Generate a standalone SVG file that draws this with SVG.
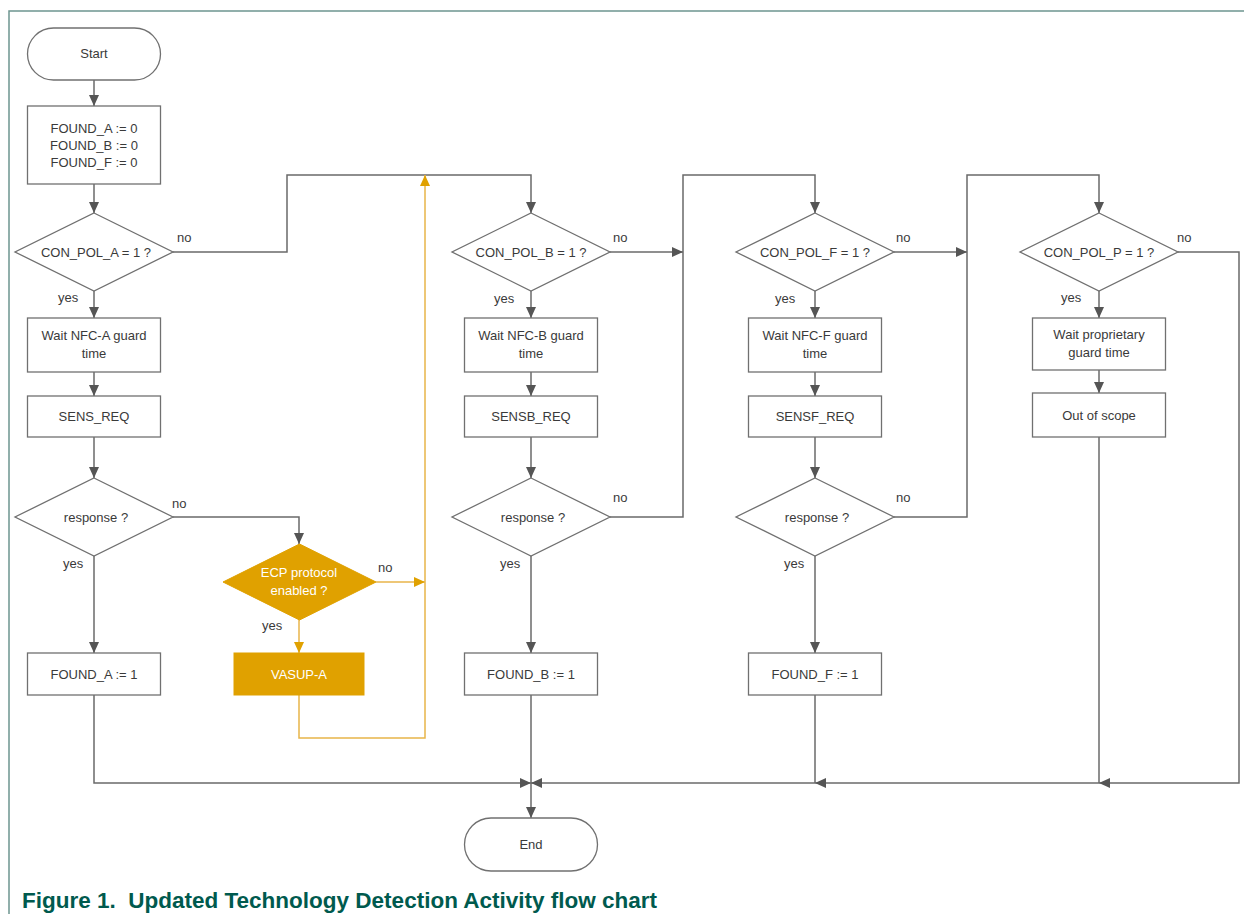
<svg xmlns="http://www.w3.org/2000/svg" width="1244" height="914" viewBox="0 0 1244 914">
<style>
.bx{fill:#fff;stroke:#707070;stroke-width:1.3}
.yb{fill:#E0A100;stroke:#E0A100;stroke-width:1}
.t{font-family:"Liberation Sans",Arial,sans-serif;font-size:13px;fill:#3a3a3a;text-anchor:middle}
.w{fill:#fff}
.l{font-family:"Liberation Sans",Arial,sans-serif;font-size:13px;fill:#3a3a3a}
.ln{fill:none;stroke:#6a6a6a;stroke-width:1.5}
.yl{fill:none;stroke:#E8B54A;stroke-width:1.5}
.cap{font-family:"Liberation Sans",Arial,sans-serif;font-size:22.5px;font-weight:bold;fill:#005a4e}
</style>
<defs>
<marker id="ah" viewBox="0 0 11 10" refX="11" refY="5" markerWidth="11" markerHeight="10" markerUnits="userSpaceOnUse" orient="auto"><path d="M0,0 L11,5 L0,10 z" fill="#555"/></marker>
<marker id="ay" viewBox="0 0 11 10" refX="11" refY="5" markerWidth="11" markerHeight="10" markerUnits="userSpaceOnUse" orient="auto"><path d="M0,0 L11,5 L0,10 z" fill="#E0A100"/></marker>
</defs>
<rect width="1244" height="914" fill="#fff"/>
<g id="frame"><path d="M9,914 V11 H1244" fill="none" stroke="#6e9590" stroke-width="1.5"/></g>

<g id="connectors">
<path class="ln" d="M94,80 V106" marker-end="url(#ah)"/>
<path class="ln" d="M94,184 V213" marker-end="url(#ah)"/>
<path class="ln" d="M94,291 V318" marker-end="url(#ah)"/>
<path class="ln" d="M94,372 V396" marker-end="url(#ah)"/>
<path class="ln" d="M94,437 V478" marker-end="url(#ah)"/>
<path class="ln" d="M94,556 V653" marker-end="url(#ah)"/>
<path class="ln" d="M94,695 V783 H531" marker-end="url(#ah)"/>
<path class="ln" d="M173,252 H287 V175 H531 V213" marker-end="url(#ah)"/>
<path class="ln" d="M173,517 H299 V544" marker-end="url(#ah)"/>
<path class="yl" d="M376,582 H425" marker-end="url(#ay)"/>
<path class="yl" d="M299,620 V653" marker-end="url(#ay)"/>
<path class="yl" d="M299,695 V738 H425 V175" marker-end="url(#ay)"/>
<path class="ln" d="M610,252 H683" marker-end="url(#ah)"/>
<path class="ln" d="M531,291 V318" marker-end="url(#ah)"/>
<path class="ln" d="M531,372 V396" marker-end="url(#ah)"/>
<path class="ln" d="M531,437 V478" marker-end="url(#ah)"/>
<path class="ln" d="M531,556 V653" marker-end="url(#ah)"/>
<path class="ln" d="M531,695 V818" marker-end="url(#ah)"/>
<path class="ln" d="M610,517 H683 V175 H815 V213" marker-end="url(#ah)"/>
<path class="ln" d="M894,252 H967" marker-end="url(#ah)"/>
<path class="ln" d="M815,291 V318" marker-end="url(#ah)"/>
<path class="ln" d="M815,372 V396" marker-end="url(#ah)"/>
<path class="ln" d="M815,437 V478" marker-end="url(#ah)"/>
<path class="ln" d="M815,556 V653" marker-end="url(#ah)"/>
<path class="ln" d="M815,695 V783"/>
<path class="ln" d="M894,517 H967 V175 H1099 V213" marker-end="url(#ah)"/>
<path class="ln" d="M1099,291 V318" marker-end="url(#ah)"/>
<path class="ln" d="M1099,370 V393" marker-end="url(#ah)"/>
<path class="ln" d="M1099,437 V783"/>
<path class="ln" d="M1178,252 H1239 V783 H1099" marker-end="url(#ah)"/>
<path class="ln" d="M1099,783 H815" marker-end="url(#ah)"/>
<path class="ln" d="M815,783 H531" marker-end="url(#ah)"/>
</g>

<g id="labels">
<text class="l" x="177" y="242">no</text>
<text class="l" x="58" y="302">yes</text>
<text class="l" x="172" y="508">no</text>
<text class="l" x="63" y="568">yes</text>
<text class="l" x="378" y="572">no</text>
<text class="l" x="262" y="630">yes</text>
<text class="l" x="613" y="242">no</text>
<text class="l" x="494" y="303">yes</text>
<text class="l" x="613" y="502">no</text>
<text class="l" x="500" y="568">yes</text>
<text class="l" x="896" y="242">no</text>
<text class="l" x="775" y="303">yes</text>
<text class="l" x="896" y="502">no</text>
<text class="l" x="784" y="568">yes</text>
<text class="l" x="1177" y="242">no</text>
<text class="l" x="1061" y="302">yes</text>
</g>

<g id="start"><rect class="bx" x="27.5" y="28" width="133" height="52" rx="26"/><text class="t" x="94" y="58">Start</text></g>
<g id="init"><rect class="bx" x="27.5" y="106" width="133" height="78"/><text class="t" x="94" y="133">FOUND_A := 0</text><text class="t" x="94" y="150">FOUND_B := 0</text><text class="t" x="94" y="167">FOUND_F := 0</text></g>
<g id="decA"><path class="bx" d="M94,213 L173,252 L94,291 L15,252 Z"/><text class="t" x="96" y="257">CON_POL_A = 1 ?</text></g>
<g id="waitA"><rect class="bx" x="27.5" y="318" width="133" height="54"/><text class="t" x="94" y="340">Wait NFC-A guard</text><text class="t" x="94" y="358">time</text></g>
<g id="sensA"><rect class="bx" x="27.5" y="396" width="133" height="41"/><text class="t" x="94" y="421">SENS_REQ</text></g>
<g id="respA"><path class="bx" d="M94,478 L173,517 L94,556 L15,517 Z"/><text class="t" x="96" y="522">response ?</text></g>
<g id="foundA"><rect class="bx" x="27.5" y="653" width="133" height="42"/><text class="t" x="94" y="679">FOUND_A := 1</text></g>
<g id="ecp"><path class="yb" d="M299.5,544 L376,582 L299.5,620 L223,582 Z"/><text class="t w" x="299" y="577">ECP protocol</text><text class="t w" x="299" y="595">enabled ?</text></g>
<g id="vasup"><rect class="yb" x="234" y="653" width="130" height="42"/><text class="t w" x="299" y="679">VASUP-A</text></g>

<g id="decB"><path class="bx" d="M531,213 L610,252 L531,291 L452,252 Z"/><text class="t" x="531" y="257">CON_POL_B = 1 ?</text></g>
<g id="waitB"><rect class="bx" x="464.5" y="318" width="133" height="54"/><text class="t" x="531" y="340">Wait NFC-B guard</text><text class="t" x="531" y="358">time</text></g>
<g id="sensB"><rect class="bx" x="464.5" y="396" width="133" height="41"/><text class="t" x="531" y="421">SENSB_REQ</text></g>
<g id="respB"><path class="bx" d="M531,478 L610,517 L531,556 L452,517 Z"/><text class="t" x="533" y="522">response ?</text></g>
<g id="foundB"><rect class="bx" x="464.5" y="653" width="133" height="42"/><text class="t" x="531" y="679">FOUND_B := 1</text></g>

<g id="decF"><path class="bx" d="M815,213 L894,252 L815,291 L736,252 Z"/><text class="t" x="815" y="257">CON_POL_F = 1 ?</text></g>
<g id="waitF"><rect class="bx" x="748.5" y="318" width="133" height="54"/><text class="t" x="815" y="340">Wait NFC-F guard</text><text class="t" x="815" y="358">time</text></g>
<g id="sensF"><rect class="bx" x="748.5" y="396" width="133" height="41"/><text class="t" x="815" y="421">SENSF_REQ</text></g>
<g id="respF"><path class="bx" d="M815,478 L894,517 L815,556 L736,517 Z"/><text class="t" x="817" y="522">response ?</text></g>
<g id="foundF"><rect class="bx" x="748.5" y="653" width="133" height="42"/><text class="t" x="815" y="679">FOUND_F := 1</text></g>

<g id="decP"><path class="bx" d="M1099,213 L1178,252 L1099,291 L1020,252 Z"/><text class="t" x="1099" y="257">CON_POL_P = 1 ?</text></g>
<g id="waitP"><rect class="bx" x="1032.5" y="318" width="133" height="52"/><text class="t" x="1099" y="339">Wait proprietary</text><text class="t" x="1099" y="357">guard time</text></g>
<g id="scopeP"><rect class="bx" x="1032.5" y="393" width="133" height="44"/><text class="t" x="1099" y="420">Out of scope</text></g>

<g id="end"><rect class="bx" x="464.5" y="818" width="133" height="53" rx="26.5"/><text class="t" x="531" y="849">End</text></g>

<g id="caption"><text class="cap" x="22" y="908" xml:space="preserve">Figure 1.  Updated Technology Detection Activity flow chart</text></g>
</svg>
